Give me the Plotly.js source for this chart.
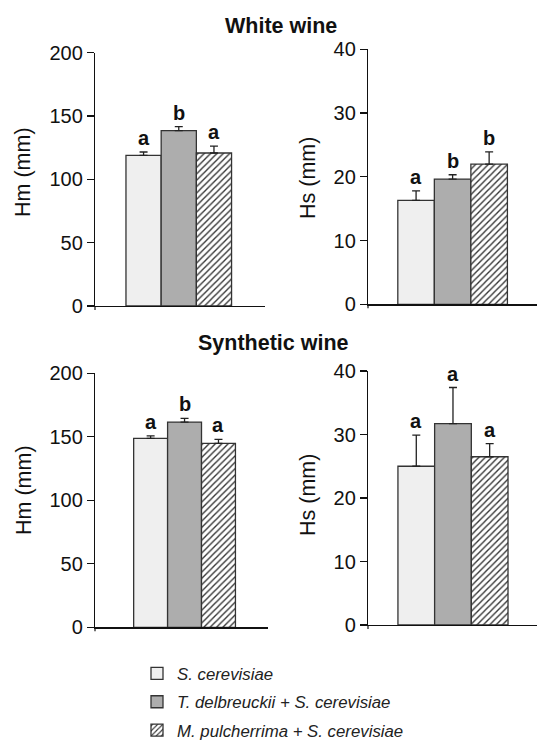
<!DOCTYPE html>
<html>
<head>
<meta charset="utf-8">
<script src="https://cdn.plot.ly/plotly-3.0.1.min.js"></script>
<style>html,body{margin:0;padding:0;background:#fff;}#chart{width:538px;height:754px;}</style>
</head>
<body>
<div id="chart"></div>
<script>
// ---- Data ----
const strains = ['S. cerevisiae', 'T. delbreuckii + S. cerevisiae', 'M. pulcherrima + S. cerevisiae'];
const panelTitles = ['White wine', 'Synthetic wine'];

const whiteHm = [119.0, 138.4, 120.8];
const whiteHmErr = [2.6, 3.2, 5.5];
const whiteHmLetters = ['a', 'b', 'a'];

const whiteHs = [16.3, 19.65, 22.0];
const whiteHsErr = [1.5, 0.67, 1.9];
const whiteHsLetters = ['a', 'b', 'b'];

const synthHm = [148.7, 161.6, 144.8];
const synthHmErr = [2.1, 2.9, 3.2];
const synthHmLetters = ['a', 'b', 'a'];

const synthHs = [25.0, 31.7, 26.5];
const synthHsErr = [4.9, 5.7, 2.05];
const synthHsLetters = ['a', 'a', 'a'];

const hmTicks = [0, 50, 100, 150, 200];
const hsTicks = [0, 10, 20, 30, 40];

// ---- Layout / styles ----
const W = 538, H = 754;
const FONT = 'Liberation Sans, Arial, sans-serif';
const fills = ['#efefef', '#adadad', '#ffffff'];
const shapes = ['', '', '/'];

const panels = [
  {ax: '', vals: whiteHm, errs: whiteHmErr, letters: whiteHmLetters, ticks: hmTicks, ytitle: 'Hm (mm)',
   xpx: [95, 265], ypx: [52.7, 306], xr: [-1.38, 3.45], tpos: [23, 172]},
  {ax: '2', vals: whiteHs, errs: whiteHsErr, letters: whiteHsLetters, ticks: hsTicks, ytitle: 'Hs (mm)',
   xpx: [368, 537], ypx: [49.3, 304.3], xr: [-1.316, 3.31], tpos: [308, 178]},
  {ax: '3', vals: synthHm, errs: synthHmErr, letters: synthHmLetters, ticks: hmTicks, ytitle: 'Hm (mm)',
   xpx: [95, 268], ypx: [373.3, 627.3], xr: [-1.64, 3.46], tpos: [24, 490]},
  {ax: '4', vals: synthHs, errs: synthHsErr, letters: synthHsLetters, ticks: hsTicks, ytitle: 'Hs (mm)',
   xpx: [368, 537], ypx: [371, 625], xr: [-1.316, 3.29], tpos: [308, 495]}
];

const traces = [];
const annotations = [];
const shapesList = [];
const layout = {
  width: W, height: H, autosize: false,
  margin: {l: 0, r: 0, t: 0, b: 0, pad: 0},
  paper_bgcolor: '#fff', plot_bgcolor: 'rgba(0,0,0,0)',
  barmode: 'overlay', bargap: 0,
  font: {family: FONT, color: '#111'},
  showlegend: true,
  legend: {
    x: 137 / W, xanchor: 'left', y: 1 - 656 / H, yanchor: 'top',
    font: {family: FONT, size: 16.8, color: '#222', style: 'italic'},
    bgcolor: 'rgba(0,0,0,0)', borderwidth: 0, tracegroupgap: 3.5
  },
  annotations: annotations,
  shapes: shapesList
};

panels.forEach((p, pi) => {
  const xa = 'x' + p.ax, ya = 'y' + p.ax;
  const ymax = p.ticks[p.ticks.length - 1];
  p.vals.forEach((v, si) => {
    traces.push({
      type: 'bar', x: [si], y: [v], width: 1,
      xaxis: xa, yaxis: ya,
      name: strains[si], legendgroup: 's' + si, showlegend: pi === 0,
      marker: {
        color: fills[si],
        line: {color: '#333', width: 1.3},
        pattern: {shape: shapes[si], fgcolor: '#333', bgcolor: '#ffffff', size: 4.5, solidity: 0.3}
      },
      error_y: {type: 'data', array: [p.errs[si]], arrayminus: [0], symmetric: false,
                color: '#222', thickness: 1.3, width: 4},
      hoverinfo: 'skip'
    });
    annotations.push({
      xref: xa, yref: ya, x: si, y: v + p.errs[si], text: '<b>' + p.letters[si] + '</b>',
      showarrow: false, yanchor: 'bottom', yshift: 1,
      font: {family: FONT, size: 20, color: '#111'}
    });
  });
  layout['xaxis' + p.ax] = {
    domain: [p.xpx[0] / W, p.xpx[1] / W], range: p.xr, anchor: ya,
    showline: true, linecolor: '#111', linewidth: 1.2, showticklabels: false, ticks: '',
    showgrid: false, zeroline: false, fixedrange: true
  };
  layout['yaxis' + p.ax] = {
    domain: [1 - p.ypx[1] / H, 1 - p.ypx[0] / H], range: [0, ymax], anchor: xa,
    tickvals: p.ticks, ticktext: p.ticks.map(String),
    ticks: 'outside', ticklen: 7, tickwidth: 1.2, tickcolor: '#111',
    showline: true, linecolor: '#111', linewidth: 1.2,
    showgrid: false, zeroline: false, fixedrange: true,
    tickfont: {family: FONT, size: 20, color: '#111'}
  };
  // small extension of the y axis line below the x axis, as in the original figure
  shapesList.push({
    type: 'line', xref: 'paper', yref: 'paper',
    x0: p.xpx[0] / W, x1: p.xpx[0] / W, y0: 1 - p.ypx[1] / H, y1: 1 - (p.ypx[1] + 4) / H,
    line: {color: '#111', width: 1.2}
  });
  annotations.push({
    xref: 'paper', yref: 'paper', x: p.tpos[0] / W, y: 1 - p.tpos[1] / H,
    xanchor: 'center', yanchor: 'middle', textangle: -90, showarrow: false,
    text: p.ytitle, font: {family: FONT, size: 21.5, color: '#111'}
  });
});

annotations.push({
  xref: 'paper', yref: 'paper', x: 281 / W, y: 1 - 25.7 / H, xanchor: 'center', yanchor: 'middle',
  showarrow: false, text: '<b>' + panelTitles[0] + '</b>', font: {family: FONT, size: 21.5, color: '#111'}
});
annotations.push({
  xref: 'paper', yref: 'paper', x: 273 / W, y: 1 - 343 / H, xanchor: 'center', yanchor: 'middle',
  showarrow: false, text: '<b>' + panelTitles[1] + '</b>', font: {family: FONT, size: 21.5, color: '#111'}
});

Plotly.newPlot('chart', traces, layout, {staticPlot: true, displayModeBar: false});
</script>
</body>
</html>
